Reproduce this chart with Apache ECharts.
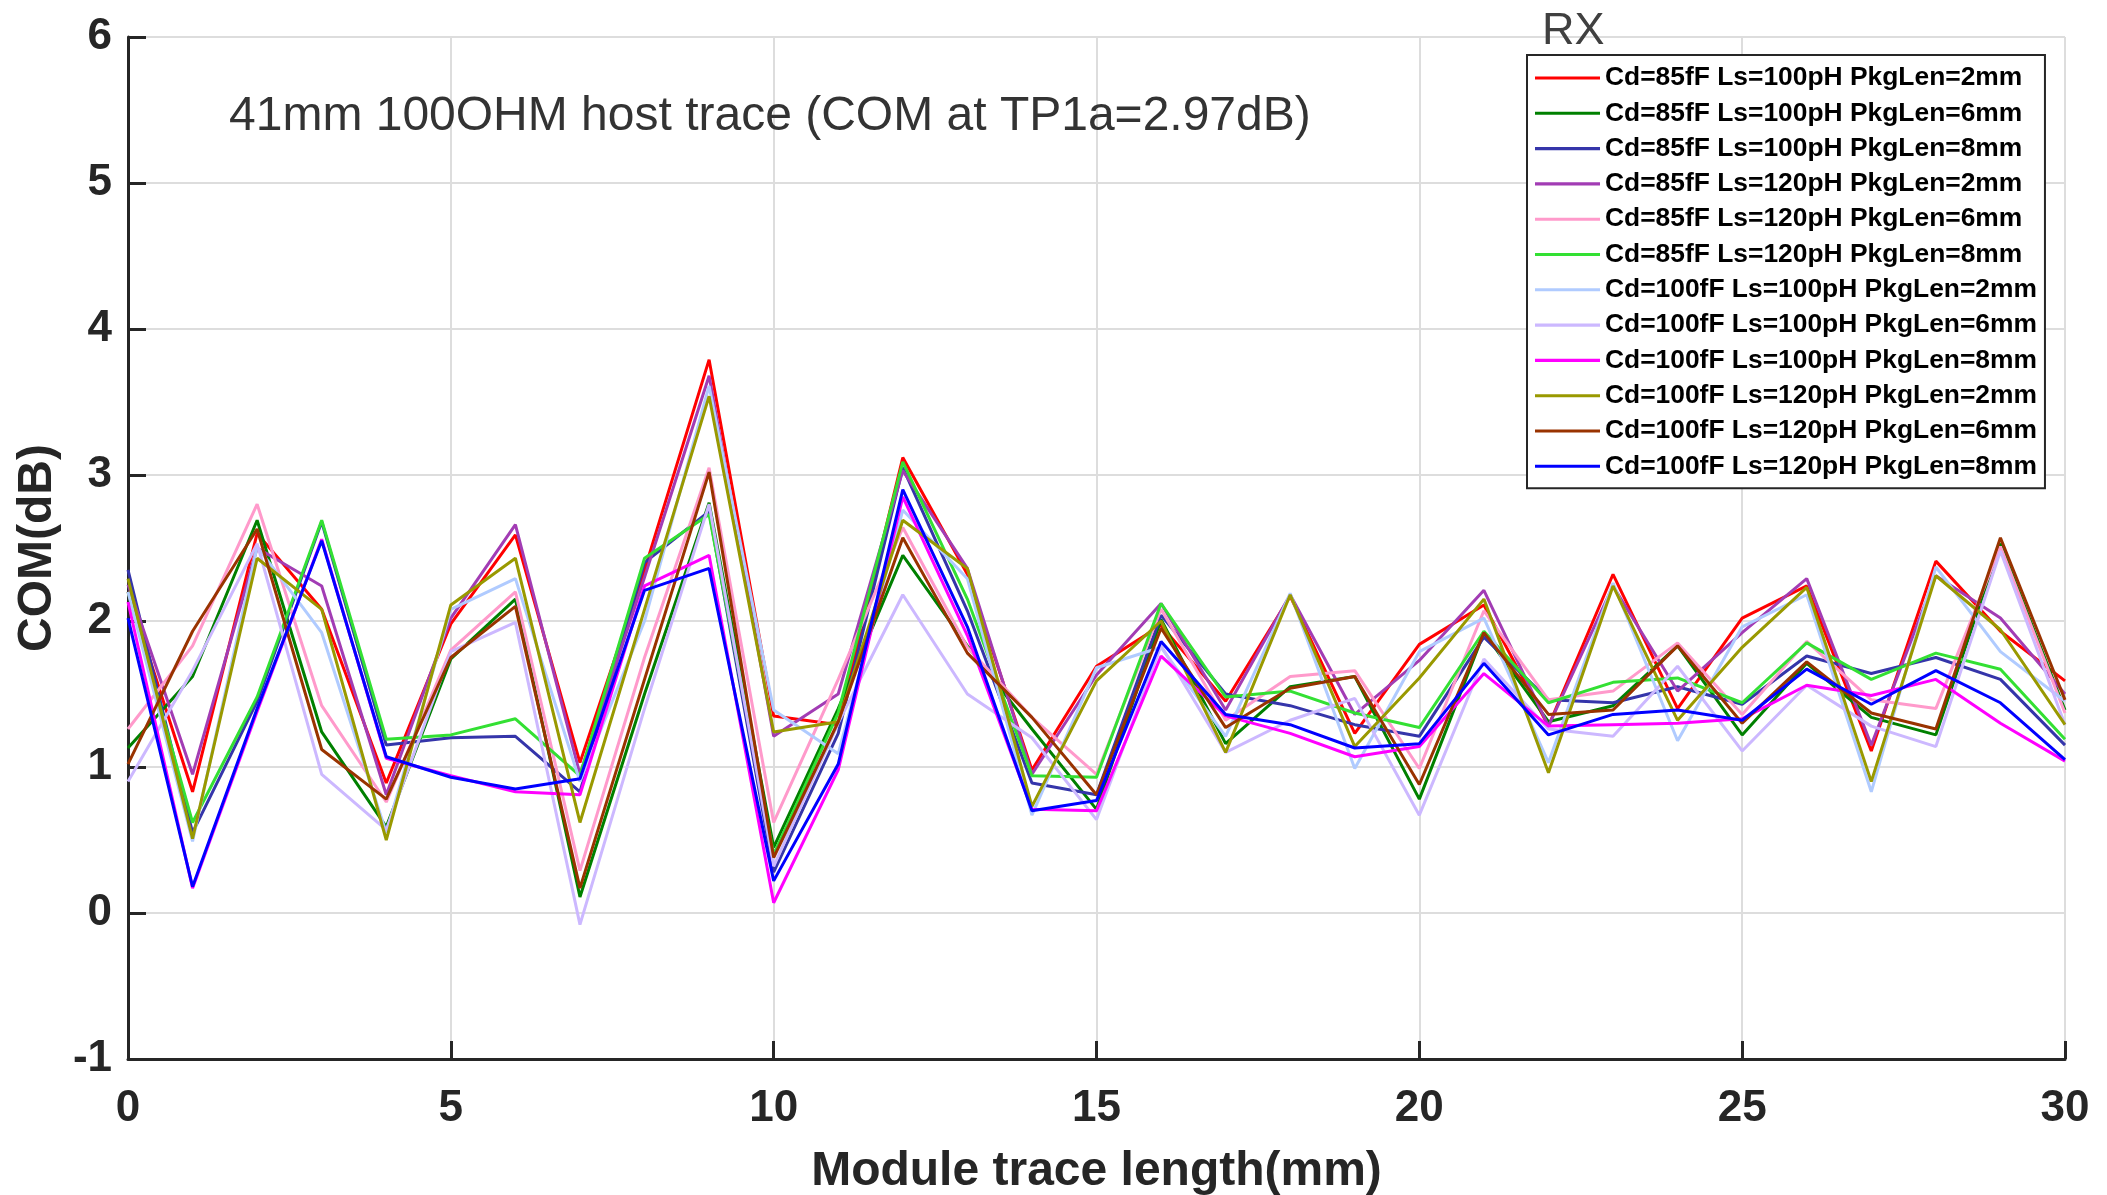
<!DOCTYPE html>
<html>
<head>
<meta charset="utf-8">
<script src="https://cdn.jsdelivr.net/npm/echarts@6/dist/echarts.min.js"></script>
<style>
html,body{margin:0;padding:0;background:#fff;}
#chart{width:2107px;height:1195px;}
</style>
</head>
<body>
<div id="chart"></div>
<script>
var xValues = [0,1,2,3,4,5,6,7,8,9,10,11,12,13,14,15,16,17,18,19,20,21,22,23,24,25,26,27,28,29,30];

var seriesNames = [
  'Cd=85fF Ls=100pH PkgLen=2mm',
  'Cd=85fF Ls=100pH PkgLen=6mm',
  'Cd=85fF Ls=100pH PkgLen=8mm',
  'Cd=85fF Ls=120pH PkgLen=2mm',
  'Cd=85fF Ls=120pH PkgLen=6mm',
  'Cd=85fF Ls=120pH PkgLen=8mm',
  'Cd=100fF Ls=100pH PkgLen=2mm',
  'Cd=100fF Ls=100pH PkgLen=6mm',
  'Cd=100fF Ls=100pH PkgLen=8mm',
  'Cd=100fF Ls=120pH PkgLen=2mm',
  'Cd=100fF Ls=120pH PkgLen=6mm',
  'Cd=100fF Ls=120pH PkgLen=8mm'
];

var seriesColors = ['#FF0000','#008000','#3535AA','#A23CB4','#FF9ACB','#33E033','#B0CBFF','#CCB8FF','#FF00FF','#999900','#993300','#0000FF'];

var cd85_ls100_2mm = [2.20,0.83,2.60,2.08,0.89,1.98,2.59,1.03,2.35,3.79,1.35,1.29,3.12,2.32,0.98,1.69,1.97,1.45,2.17,1.23,1.84,2.11,1.28,2.32,1.40,2.02,2.24,1.11,2.41,1.93,1.59];
var cd85_ls100_6mm = [1.13,1.62,2.69,1.24,0.59,1.74,2.15,0.11,1.50,2.81,0.45,1.40,2.45,1.83,1.26,0.71,2.01,1.16,1.55,1.62,0.78,1.92,1.31,1.42,1.83,1.22,1.71,1.34,1.22,2.53,1.39];
var cd85_ls100_8mm = [2.35,0.55,1.45,2.68,1.15,1.20,1.21,0.83,2.40,2.75,0.28,1.23,3.05,2.07,0.89,0.81,2.04,1.50,1.42,1.29,1.21,1.89,1.46,1.44,1.55,1.43,1.76,1.64,1.75,1.60,1.15];
var cd85_ls120_2mm = [2.25,0.95,2.50,2.24,0.81,2.02,2.66,0.95,2.30,3.68,1.21,1.50,3.03,2.36,0.95,1.63,2.12,1.39,2.18,1.36,1.73,2.21,1.28,2.24,1.52,1.92,2.29,1.15,2.31,2.02,1.50];
var cd85_ls120_6mm = [1.26,1.83,2.80,1.42,0.76,1.80,2.20,0.29,1.75,3.05,0.62,1.60,2.64,1.82,1.34,0.95,2.08,1.32,1.62,1.66,0.99,2.07,1.46,1.52,1.85,1.36,1.86,1.46,1.40,2.51,1.37];
var cd85_ls120_8mm = [2.20,0.62,1.48,2.69,1.19,1.22,1.33,0.94,2.43,2.73,0.40,1.37,3.09,2.15,0.94,0.93,2.12,1.48,1.52,1.37,1.27,1.93,1.44,1.58,1.61,1.44,1.85,1.60,1.78,1.67,1.19];
var cd100_ls100_2mm = [2.20,0.49,2.51,1.92,0.55,2.08,2.29,0.90,2.00,3.61,1.39,1.09,2.76,2.29,0.67,1.68,1.82,1.21,2.19,0.99,1.79,2.02,1.03,2.26,1.18,1.96,2.18,0.83,2.37,1.79,1.45];
var cd100_ls100_6mm = [0.90,1.66,2.53,0.95,0.57,1.79,1.99,-0.08,1.40,2.80,0.32,1.30,2.18,1.50,1.20,0.64,1.83,1.10,1.32,1.47,0.67,1.74,1.26,1.21,1.69,1.11,1.56,1.28,1.14,2.48,1.29];
var cd100_ls100_8mm = [2.13,0.17,1.38,2.56,1.06,0.94,0.83,0.81,2.24,2.45,0.07,0.98,2.85,1.90,0.71,0.70,1.76,1.35,1.23,1.07,1.14,1.64,1.28,1.29,1.30,1.33,1.56,1.49,1.60,1.30,1.04];
var cd100_ls120_2mm = [2.29,0.51,2.43,2.08,0.50,2.11,2.43,0.62,2.08,3.54,1.24,1.31,2.69,2.36,0.73,1.59,2.00,1.10,2.18,1.14,1.61,2.15,0.96,2.24,1.32,1.82,2.23,0.90,2.31,1.94,1.29];
var cd100_ls120_6mm = [1.02,1.93,2.63,1.12,0.78,1.75,2.10,0.17,1.60,3.02,0.38,1.31,2.57,1.78,1.34,0.81,1.95,1.27,1.54,1.62,0.88,1.92,1.36,1.39,1.83,1.30,1.72,1.37,1.26,2.57,1.46];
var cd100_ls120_8mm = [2.02,0.18,1.40,2.55,1.07,0.93,0.85,0.92,2.21,2.36,0.22,1.02,2.90,1.96,0.70,0.77,1.86,1.36,1.29,1.13,1.16,1.71,1.22,1.36,1.39,1.32,1.67,1.43,1.66,1.44,1.05];

var allValues = [cd85_ls100_2mm, cd85_ls100_6mm, cd85_ls100_8mm, cd85_ls120_2mm, cd85_ls120_6mm, cd85_ls120_8mm,
                 cd100_ls100_2mm, cd100_ls100_6mm, cd100_ls100_8mm, cd100_ls120_2mm, cd100_ls120_6mm, cd100_ls120_8mm];

var xTicks = [0,5,10,15,20,25,30];
var yTicks = [-1,0,1,2,3,4,5,6];

var chart = echarts.init(document.getElementById('chart'), null, {renderer:'canvas'});

var series = allValues.map(function(vals, i){
  return {
    name: seriesNames[i],
    type: 'line',
    symbol: 'none',
    animation: false,
    lineStyle: {width: 3, color: seriesColors[i]},
    itemStyle: {color: seriesColors[i]},
    data: vals.map(function(v, j){ return [xValues[j], v]; })
  };
});

var axisColor = '#262626';
var fontFam = '"Liberation Sans", Arial, sans-serif';

chart.setOption({
  animation: false,
  backgroundColor: '#fff',
  title: [
    {text: '41mm 100OHM host trace (COM at TP1a=2.97dB)', left: 224, top: 88,
     textStyle: {fontFamily: fontFam, fontSize: 48, fontWeight: 'normal', color: '#333333'}},
    {text: 'RX', left: 1537, top: 4,
     textStyle: {fontFamily: fontFam, fontSize: 45, fontWeight: 'normal', color: '#404040'}}
  ],
  grid: {left: 128, right: 42, top: 37, bottom: 136, containLabel: false, outerBoundsMode: 'none'},
  legend: {
    orient: 'vertical',
    left: 1527, top: 55,
    padding: [10, 8, 9, 8],
    backgroundColor: '#ffffff',
    borderColor: axisColor,
    borderWidth: 2,
    borderRadius: 0,
    itemWidth: 65,
    itemHeight: 14,
    itemGap: 9.3,
    icon: 'path://M0,0 L63,0 L63,3 L0,3 Z',
    textStyle: {fontFamily: fontFam, fontSize: 26.4, fontWeight: 'bold', color: '#000', lineHeight: 26},
    data: seriesNames.map(function(n, i){ return {name: n, itemStyle: {color: seriesColors[i]}}; })
  },
  xAxis: {
    type: 'value', min: 0, max: 30, interval: 5,
    name: 'Module trace length(mm)', nameLocation: 'middle', nameGap: 89,
    nameTextStyle: {fontFamily: fontFam, fontSize: 48, fontWeight: 'bold', color: axisColor},
    axisLine: {show: true, onZero: false, lineStyle: {color: axisColor, width: 3}},
    axisTick: {show: true, inside: true, length: 18, lineStyle: {color: axisColor, width: 3}},
    axisLabel: {margin: 28, fontFamily: fontFam, fontSize: 44, fontWeight: 'bold', color: axisColor,
      formatter: function(v){ return xTicks.indexOf(v) >= 0 ? String(v) : ''; }},
    splitLine: {show: true, lineStyle: {color: '#dddddd', width: 2}}
  },
  yAxis: {
    type: 'value', min: -1, max: 6, interval: 1,
    name: 'COM(dB)', nameLocation: 'middle', nameGap: 60,
    nameTextStyle: {fontFamily: fontFam, fontSize: 48, fontWeight: 'bold', color: axisColor},
    axisLine: {show: true, onZero: false, lineStyle: {color: axisColor, width: 3}},
    axisTick: {show: true, inside: true, length: 18, lineStyle: {color: axisColor, width: 3}},
    axisLabel: {margin: 16, fontFamily: fontFam, fontSize: 44, fontWeight: 'bold', color: axisColor,
      formatter: function(v){ return yTicks.indexOf(v) >= 0 ? String(v) : ''; }},
    splitLine: {show: true, lineStyle: {color: '#dddddd', width: 2}}
  },
  series: series
});
</script>
</body>
</html>
